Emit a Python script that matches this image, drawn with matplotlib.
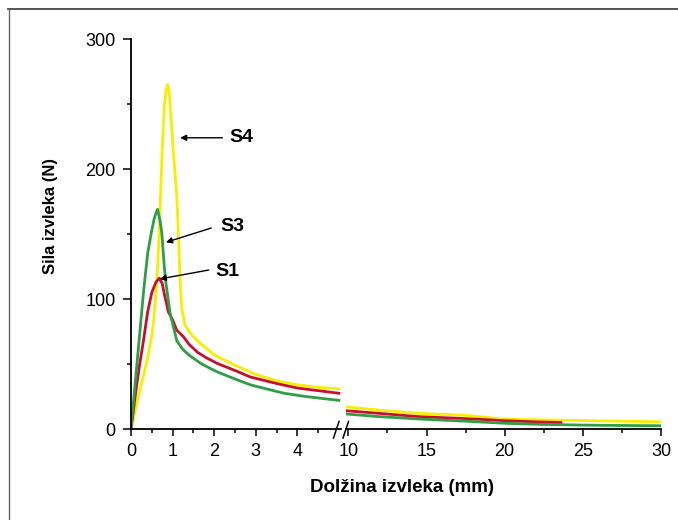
import matplotlib
matplotlib.use("Agg")
import matplotlib.pyplot as plt
from matplotlib.lines import Line2D

plt.rcParams['font.family'] = ['Liberation Sans', 'DejaVu Sans']

# ---- data: left segment (0-5 mm) ----
s4_x_left = [0, 0.1, 0.2, 0.3, 0.4, 0.5, 0.55, 0.6, 0.65, 0.7, 0.75, 0.8, 0.85, 0.885,
             0.92, 0.96, 1.0, 1.05, 1.1, 1.14, 1.18, 1.22, 1.3, 1.4, 1.5, 1.7, 2.0,
             2.5, 3.0, 3.5, 4.0, 4.5, 5.0]
s4_y_left = [0, 14, 28, 41, 55, 72, 85, 105, 130, 170, 215, 248, 262, 265,
             258, 240, 222, 200, 180, 150, 115, 93, 80, 75, 71, 65, 57,
             49, 42, 37, 34, 32, 31]

s1_x_left = [0, 0.1, 0.2, 0.3, 0.4, 0.5, 0.6, 0.68, 0.75, 0.8, 0.9, 1.0, 1.1, 1.26,
             1.4, 1.6, 1.8, 2.07, 2.5, 2.87, 3.5, 4.0, 4.5, 5.0]
s1_y_left = [0, 25, 48, 68, 90, 105, 113, 116, 112, 104, 90, 84, 76, 71,
             65, 59, 55, 50.5, 45, 40, 35, 31.5, 29.5, 27.5]

s3_x_left = [0, 0.1, 0.2, 0.3, 0.4, 0.5, 0.56, 0.6, 0.64, 0.7, 0.74, 0.8, 0.84, 0.94,
             1.1, 1.25, 1.43, 1.7, 2.07, 2.5, 2.87, 3.3, 3.68, 4.2, 4.6, 5.0]
s3_y_left = [0, 35, 70, 105, 135, 153, 162, 166, 169, 160, 151, 125, 112, 89,
             68, 61, 56, 50, 44, 38.5, 34, 30.5, 27.5, 25, 23.5, 22]

# ---- data: right segment (10-30 mm) ----
s4_x_right = [9.9, 12, 14.5, 17.5, 20, 22.5, 25, 27.5, 30]
s4_y_right = [17, 14.5, 12, 10.5, 7.5, 7, 6.5, 6, 5.5]
s1_x_right = [9.9, 12, 14.5, 17.5, 20, 22, 23.6]
s1_y_right = [14, 12, 9.5, 8, 6.4, 5.5, 5]
s3_x_right = [9.9, 12, 14.5, 17.5, 20, 22.5, 25, 27.5, 30]
s3_y_right = [11.5, 9.5, 7.7, 6, 4.4, 3.5, 3, 2.7, 2.5]

left_xticks = [0, 1, 2, 3, 4]
right_xticks = [10, 15, 20, 25, 30]
yticks = [0, 100, 200, 300]

c_yellow = '#f7ee00'
c_red = '#c8102e'
c_green = '#2f9e45'
lw = 2.0

W, H = 678, 520
fig = plt.figure(figsize=(W / 100, H / 100), dpi=100)

def fx(px):
    return px / W

def fy(py):
    return 1 - py / H

axL = fig.add_axes([fx(131), fy(429), fx(341) - fx(131), fy(39) - fy(429)])
axR = fig.add_axes([fx(346), fy(429), fx(661) - fx(346), fy(39) - fy(429)])

for ax in (axL, axR):
    ax.set_facecolor('none')
    ax.set_ylim(0, 300)
    for s in ('top', 'right'):
        ax.spines[s].set_visible(False)
    ax.spines['bottom'].set_linewidth(1.3)
    ax.spines['left'].set_linewidth(1.3)
    ax.tick_params(axis='both', which='major', direction='out', length=5, width=1.1,
                   labelsize=13, pad=5, color='black')
    ax.tick_params(axis='both', which='minor', direction='out', length=3, width=1.1)

axL.plot(s4_x_left, s4_y_left, color=c_yellow, lw=lw)
axL.plot(s1_x_left, s1_y_left, color=c_red, lw=lw)
axL.plot(s3_x_left, s3_y_left, color=c_green, lw=lw)
axR.plot(s4_x_right, s4_y_right, color=c_yellow, lw=lw)
axR.plot(s1_x_right, s1_y_right, color=c_red, lw=lw)
axR.plot(s3_x_right, s3_y_right, color=c_green, lw=lw)

axL.set_xlim(0, 5.05)
axL.set_xticks(left_xticks)
axL.set_xticks([0.5, 1.5, 2.5, 3.5, 4.5], minor=True)
axL.set_yticks(yticks)
axL.set_yticks([50, 150, 250], minor=True)
axL.tick_params(axis='y', which='major', length=6)

axR.set_xlim(9.85, 30)
axR.set_xticks(right_xticks)
axR.set_xticks([12.5, 17.5, 22.5, 27.5], minor=True)
axR.spines['left'].set_visible(False)
axR.set_yticks([])
axR.tick_params(axis='x', which='minor', length=3)

# annotations
arrow = dict(arrowstyle='-|>', color='black', lw=1.0, mutation_scale=9, shrinkA=0, shrinkB=0)
axL.annotate('', xy=(1.18, 224), xytext=(2.2, 224), arrowprops=arrow)
axL.text(2.37, 224, 'S4', fontsize=14, fontweight='bold', va='center', ha='left')
axL.annotate('', xy=(0.84, 143.6), xytext=(1.93, 154.6), arrowprops=arrow)
axL.text(2.15, 155.8, 'S3', fontsize=14, fontweight='bold', va='center', ha='left')
axL.annotate('', xy=(0.69, 115.4), xytext=(1.87, 122.3), arrowprops=arrow)
axL.text(2.03, 120.8, 'S1', fontsize=14, fontweight='bold', va='center', ha='left')

# axis labels
fig.text(fx(402), fy(487), 'Dolžina izvleka (mm)', fontsize=13.5, fontweight='bold',
         ha='center', va='center')
fig.text(fx(50), fy(216), 'Sila izvleka (N)', fontsize=12, fontweight='bold',
         ha='center', va='center', rotation=90)

# axis break marks
for x0 in (333.5, 343):
    fig.add_artist(Line2D([fx(x0), fx(x0 + 5.5)], [fy(438), fy(421.5)],
                          color='black', lw=1.1, transform=fig.transFigure))

# frame (top and left edges)
fig.add_artist(Line2D([fx(8), fx(678)], [fy(9), fy(9)], color='#444444', lw=1.3,
                      transform=fig.transFigure))
fig.add_artist(Line2D([fx(9), fx(9)], [fy(9), fy(520)], color='#666666', lw=1.0,
                      transform=fig.transFigure))

fig.savefig('out.png', dpi=100)
